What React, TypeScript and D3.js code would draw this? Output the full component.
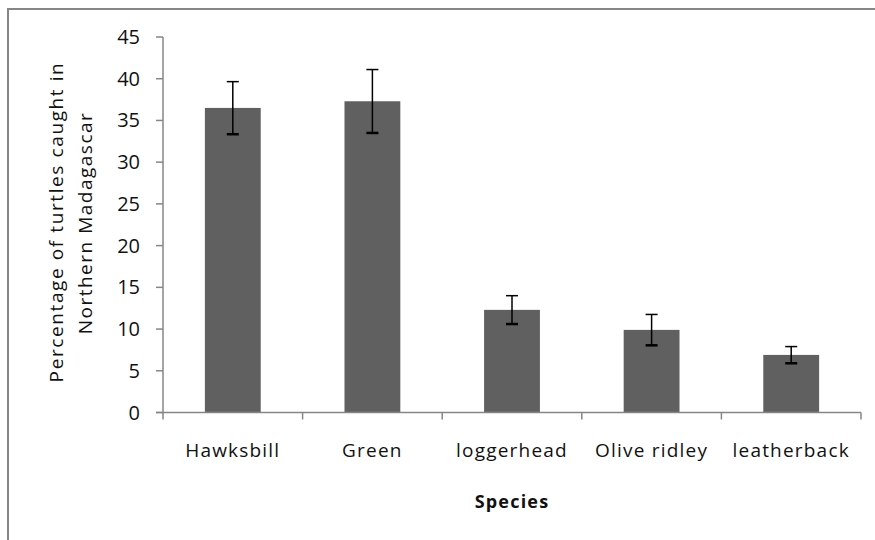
import React from "react";
import * as d3 from "d3";

const species = ["Hawksbill", "Green", "loggerhead", "Olive ridley", "leatherback"];
const percentages = [36.5, 37.3, 12.3, 9.9, 6.9];
const errors = [3.15, 3.8, 1.7, 1.85, 1.0];
const yTicks = [0, 5, 10, 15, 20, 25, 30, 35, 40, 45];

const W = 875;
const H = 540;
const left = 163;
const right = 861;
const top = 37;
const bottom = 412.5;
const font = "'Open Sans', 'DejaVu Sans', sans-serif";
const axisColor = "#868686";

export default function App() {
  const x = d3.scaleBand<string>().domain(species).range([left, right]).paddingInner(0.6).paddingOuter(0.3);
  const y = d3.scaleLinear().domain([0, 45]).range([bottom, top]);
  const boundaries = d3.range(species.length + 1).map((i) => left + i * (right - left) / species.length);

  return (
    <svg width={W} height={H} style={{ position: "absolute", left: 0, top: 0, background: "#fff" }}>
      <rect x={0} y={0} width={W} height={H} fill="#fff" />
      {/* outer border */}
      <line x1={8} y1={9} x2={W + 2} y2={9} stroke={axisColor} strokeWidth={2} />
      <line x1={8} y1={8} x2={8} y2={H + 2} stroke={axisColor} strokeWidth={2} />

      {/* bars */}
      {species.map((s, i) => (
        <rect key={s} x={x(s)} y={y(percentages[i])} width={x.bandwidth()} height={y(0) - y(percentages[i])} fill="#606060" />
      ))}

      {/* error bars */}
      {species.map((s, i) => {
        const cx = (x(s) as number) + x.bandwidth() / 2;
        const hi = y(percentages[i] + errors[i]);
        const lo = y(percentages[i] - errors[i]);
        return (
          <g key={"e" + s} stroke="#000">
            <line x1={cx} x2={cx} y1={hi} y2={lo} strokeWidth={1.5} />
            <line x1={cx - 6} x2={cx + 6} y1={hi} y2={hi} strokeWidth={1.5} />
            <line x1={cx - 6} x2={cx + 6} y1={lo} y2={lo} strokeWidth={2.5} />
          </g>
        );
      })}

      {/* y axis */}
      <line x1={left} x2={left} y1={top} y2={bottom} stroke={axisColor} strokeWidth={1.5} />
      {yTicks.map((t) => (
        <g key={"t" + t}>
          <line x1={left - 7} x2={left} y1={y(t)} y2={y(t)} stroke={axisColor} strokeWidth={1.5} />
          <text x={140} y={y(t)} dy="0.35em" textAnchor="end" fontFamily={font} fontSize={20} fill="#111">
            {t}
          </text>
        </g>
      ))}

      {/* x axis */}
      <line x1={left - 7} x2={right} y1={bottom} y2={bottom} stroke={axisColor} strokeWidth={1.5} />
      {boundaries.map((b, i) => (
        <line key={"b" + i} x1={b} x2={b} y1={bottom} y2={bottom + 7} stroke={axisColor} strokeWidth={1.5} />
      ))}
      {species.map((s) => (
        <text key={"l" + s} x={(x(s) as number) + x.bandwidth() / 2} y={457} textAnchor="middle" fontFamily={font} fontSize={19} letterSpacing={1.2} fill="#111">
          {s}
        </text>
      ))}

      {/* axis titles */}
      <text x={512} y={508} textAnchor="middle" fontFamily={font} fontSize={18} letterSpacing={1.2} fontWeight="bold" fill="#111">
        Species
      </text>
      <text transform={`translate(63, 222) rotate(-90)`} textAnchor="middle" fontFamily={font} fontSize={19} letterSpacing={1.6} fill="#111">
        Percentage of turtles caught in
      </text>
      <text transform={`translate(92, 223) rotate(-90)`} textAnchor="middle" fontFamily={font} fontSize={19} letterSpacing={1.5} fill="#111">
        Northern Madagascar
      </text>
    </svg>
  );
}
